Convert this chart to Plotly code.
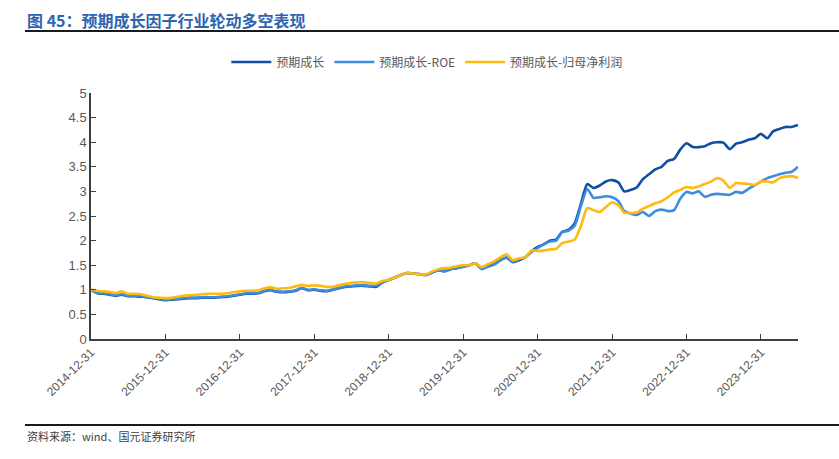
import pandas as pd
import plotly.graph_objects as go

dates = pd.date_range("2014-12-31", periods=115, freq="ME").strftime("%Y-%m-%d").tolist()

growth = [1.00,
    0.93, 0.92, 0.90, 0.88, 0.90, 0.87, 0.87, 0.86, 0.85, 0.83, 0.81, 0.79,
    0.80, 0.81, 0.82, 0.83, 0.83, 0.84, 0.84, 0.84, 0.85, 0.86, 0.88, 0.90,
    0.92, 0.92, 0.93, 0.97, 0.99, 0.96, 0.95, 0.96, 0.98, 1.03, 0.99, 1.00,
    0.98, 0.97, 1.00, 1.03, 1.06, 1.07, 1.08, 1.08, 1.07, 1.06, 1.15, 1.20,
    1.25, 1.30, 1.34, 1.33, 1.32, 1.30, 1.35, 1.40, 1.38, 1.42, 1.44, 1.47,
    1.50, 1.54, 1.44, 1.48, 1.52, 1.60, 1.65, 1.56, 1.60, 1.66, 1.78, 1.87,
    1.93, 2.00, 2.02, 2.18, 2.22, 2.35, 2.75, 3.15, 3.07, 3.12, 3.20, 3.23,
    3.18, 3.00, 3.03, 3.08, 3.25, 3.35, 3.45, 3.50, 3.62, 3.66, 3.85, 3.98,
    3.90, 3.90, 3.92, 3.98, 4.00, 3.99, 3.86, 3.97, 4.00, 4.05, 4.08, 4.17,
    4.08, 4.22, 4.27, 4.31, 4.31, 4.35]

growth_roe = [1.00,
    0.94, 0.93, 0.91, 0.89, 0.91, 0.88, 0.88, 0.87, 0.86, 0.84, 0.82, 0.80,
    0.81, 0.82, 0.83, 0.84, 0.84, 0.85, 0.85, 0.85, 0.86, 0.87, 0.89, 0.91,
    0.93, 0.93, 0.94, 0.98, 1.00, 0.97, 0.96, 0.97, 0.99, 1.04, 1.00, 1.01,
    0.99, 0.98, 1.01, 1.04, 1.07, 1.08, 1.09, 1.09, 1.08, 1.08, 1.16, 1.20,
    1.25, 1.30, 1.34, 1.33, 1.32, 1.30, 1.35, 1.40, 1.38, 1.42, 1.44, 1.47,
    1.50, 1.54, 1.42, 1.47, 1.51, 1.60, 1.66, 1.57, 1.62, 1.66, 1.77, 1.85,
    1.93, 1.98, 2.00, 2.17, 2.20, 2.30, 2.70, 3.05, 2.87, 2.88, 2.90, 2.88,
    2.80, 2.60, 2.55, 2.52, 2.58, 2.50, 2.60, 2.63, 2.60, 2.62, 2.85, 2.99,
    2.96, 3.00, 2.89, 2.93, 2.95, 2.94, 2.93, 2.99, 2.97, 3.05, 3.12, 3.20,
    3.27, 3.31, 3.35, 3.38, 3.40, 3.50]

growth_profit = [1.00,
    0.98, 0.97, 0.96, 0.93, 0.97, 0.92, 0.92, 0.91, 0.88, 0.85, 0.84, 0.83,
    0.84, 0.86, 0.88, 0.89, 0.90, 0.91, 0.92, 0.92, 0.92, 0.93, 0.95, 0.97,
    0.98, 0.98, 0.99, 1.03, 1.05, 1.02, 1.03, 1.04, 1.07, 1.10, 1.08, 1.09,
    1.08, 1.06, 1.06, 1.09, 1.12, 1.14, 1.15, 1.15, 1.14, 1.13, 1.18, 1.20,
    1.25, 1.30, 1.34, 1.33, 1.32, 1.31, 1.37, 1.42, 1.44, 1.45, 1.48, 1.50,
    1.50, 1.54, 1.46, 1.52, 1.58, 1.66, 1.72, 1.60, 1.64, 1.66, 1.80, 1.79,
    1.80, 1.82, 1.83, 1.95, 1.98, 2.02, 2.30, 2.66, 2.62, 2.58, 2.68, 2.78,
    2.72, 2.57, 2.56, 2.57, 2.65, 2.70, 2.76, 2.80, 2.88, 2.98, 3.03, 3.09,
    3.07, 3.10, 3.15, 3.20, 3.27, 3.22, 3.07, 3.17, 3.16, 3.15, 3.13, 3.20,
    3.20, 3.18, 3.27, 3.30, 3.31, 3.27]

series_names = ["预期成长", "预期成长-ROE", "预期成长-归母净利润"]
series_colors = ["#0F4FA3", "#3B8EDC", "#FFB90F"]
tick_dates = ["2014-12-31", "2015-12-31", "2016-12-31", "2017-12-31", "2018-12-31",
              "2019-12-31", "2020-12-31", "2021-12-31", "2022-12-31", "2023-12-31"]

FONT = "Liberation Sans, Arial, Noto Sans CJK SC, sans-serif"
CJK = "Noto Sans CJK SC, Liberation Sans, sans-serif"

fig = go.Figure()
for name, vals, col in zip(series_names, [growth, growth_roe, growth_profit], series_colors):
    fig.add_trace(go.Scatter(x=dates, y=vals, name=name, mode="lines",
                             line=dict(color=col, width=2.6, shape="spline", smoothing=0.6)))

fig.update_layout(
    width=839, height=459,
    margin=dict(l=91, r=41, t=93, b=120, autoexpand=False),
    paper_bgcolor="white", plot_bgcolor="white",
    font=dict(family=FONT, size=12, color="#595959"),
    showlegend=True,
    legend=dict(orientation="h", x=0.475, xanchor="center", y=1.126, yanchor="middle",
                font=dict(family=CJK, size=12, color="#595959"),
                itemwidth=40, tracegroupgap=0, bgcolor="rgba(0,0,0,0)"),
    xaxis=dict(range=[dates[0], dates[-1]], tickvals=tick_dates, ticktext=tick_dates,
               tickangle=-45, showgrid=False, zeroline=False, showline=True, automargin=False,
               linecolor="#404040", linewidth=1.5, ticks="inside", ticklen=5,
               tickcolor="#404040", tickfont=dict(size=12, color="#595959")),
    yaxis=dict(range=[0, 5], dtick=0.5, tick0=0, showgrid=False, zeroline=False, automargin=False,
               showline=True, linecolor="#404040", linewidth=1.5, ticks="inside",
               ticklen=5, tickcolor="#404040", tickfont=dict(size=13, color="#595959")),
)

fig.add_annotation(text="<b>图 45：预期成长因子行业轮动多空表现</b>", xref="paper", yref="paper",
                   x=-0.0934, y=1.2967, xanchor="left", yanchor="middle", showarrow=False,
                   font=dict(family=CJK, size=16, color="#2E64B0"))
fig.add_shape(type="line", xref="paper", yref="paper", x0=-0.0934, x1=1.06, y0=1.252, y1=1.252,
              line=dict(color="#1a1a1a", width=2))
fig.add_shape(type="line", xref="paper", yref="paper", x0=-0.0934, x1=1.06, y0=-0.3496, y1=-0.3496,
              line=dict(color="#1a1a1a", width=2))
fig.add_annotation(text="资料来源：wind、国元证券研究所", xref="paper", yref="paper",
                   x=-0.0934, y=-0.394, xanchor="left", yanchor="middle", showarrow=False,
                   font=dict(family=CJK, size=11, color="#404040"))

fig.write_html("out.html", config={"displayModeBar": False},
               post_script="document.body.style.margin='0';")
